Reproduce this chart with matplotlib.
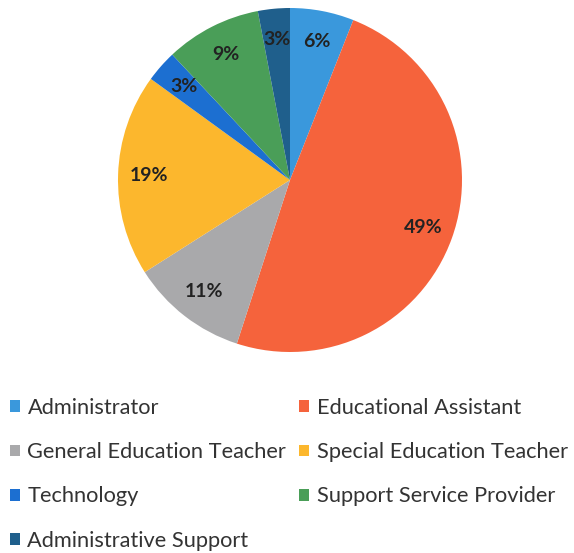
import matplotlib
matplotlib.use("Agg")
import matplotlib.pyplot as plt
from matplotlib.patches import Patch

categories = ["Administrator", "Educational Assistant", "General Education Teacher",
              "Special Education Teacher", "Technology", "Support Service Provider",
              "Administrative Support"]
values = [6, 49, 11, 19, 3, 9, 3]
colors = ["#3a98dc", "#f5633c", "#a9a9ab", "#fcb72d", "#1c6fd1", "#4a9e58", "#1f5f8c"]

fig = plt.figure(figsize=(5.74, 5.53), dpi=100)
R = 172
cx, cy = 290, 180
W, H = 574, 553
ax = fig.add_axes([(cx - R) / W, (H - cy - R) / H, 2 * R / W, 2 * R / H])
wedges, texts, autotexts = ax.pie(values, colors=colors, startangle=90, counterclock=False,
                                  autopct=lambda p: f"{p:.0f}%", pctdistance=0.82,
                                  radius=1.0,
                                  textprops=dict(fontsize=14, fontweight="bold", color="#222222",
                                                 family="Lato"))
ax.set_xlim(-1, 1)
ax.set_ylim(-1, 1)
ax.set_aspect("equal")
ax.axis("off")

handles = [Patch(facecolor=c, edgecolor="none") for c in colors]
order = [0, 2, 4, 6, 1, 3, 5]
leg = fig.legend([handles[i] for i in order], [categories[i] for i in order],
                 ncol=2, loc="upper left", bbox_to_anchor=(10 / W, 1 - 398 / H),
                 frameon=False, prop=dict(family="Lato", size=15.7),
                 borderpad=0, borderaxespad=0,
                 handlelength=0.45, handleheight=0.45, handletextpad=0.35,
                 labelspacing=1.11, columnspacing=0.6)
for t in leg.get_texts():
    t.set_color("#333333")

fig.savefig("out.png", dpi=100, facecolor="white")
